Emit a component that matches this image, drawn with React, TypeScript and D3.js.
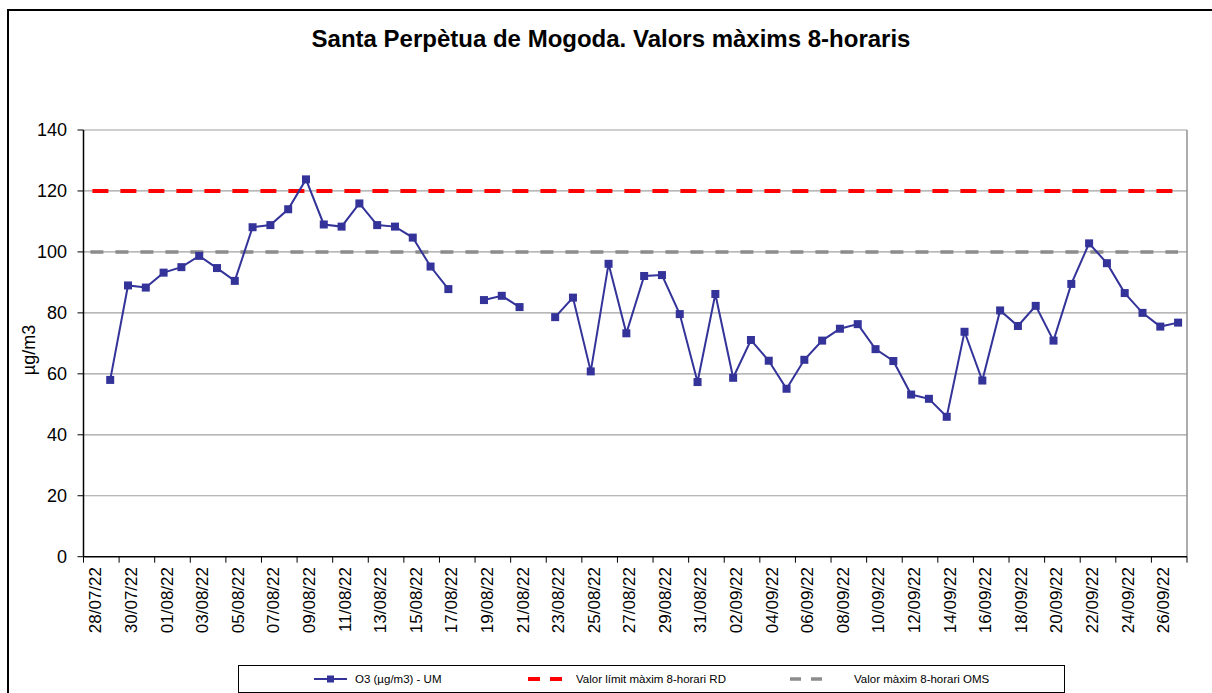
import React from "react";
import * as d3 from "d3";

const dates = [
  "28/07/22", "29/07/22", "30/07/22", "31/07/22",
  "01/08/22", "02/08/22", "03/08/22", "04/08/22", "05/08/22", "06/08/22", "07/08/22", "08/08/22",
  "09/08/22", "10/08/22", "11/08/22", "12/08/22", "13/08/22", "14/08/22", "15/08/22", "16/08/22",
  "17/08/22", "18/08/22", "19/08/22", "20/08/22", "21/08/22", "22/08/22", "23/08/22", "24/08/22",
  "25/08/22", "26/08/22", "27/08/22", "28/08/22", "29/08/22", "30/08/22", "31/08/22",
  "01/09/22", "02/09/22", "03/09/22", "04/09/22", "05/09/22", "06/09/22", "07/09/22", "08/09/22",
  "09/09/22", "10/09/22", "11/09/22", "12/09/22", "13/09/22", "14/09/22", "15/09/22", "16/09/22",
  "17/09/22", "18/09/22", "19/09/22", "20/09/22", "21/09/22", "22/09/22", "23/09/22", "24/09/22",
  "25/09/22", "26/09/22", "27/09/22",
];

// O3 maxim 8-horari, null = sense dada
const o3Values: (number | null)[] = [
  null, 58, 89, 88.3,
  93.2, 95, 98.7, 94.7, 90.5, 108.1, 108.8, 114,
  123.8, 109, 108.3, 115.9, 108.8, 108.3, 104.7, 95.2,
  87.8, null, 84.2, 85.6, 81.9, null, 78.6, 85,
  60.8, 96.1, 73.3, 92.1, 92.4, 79.6, 57.3,
  86.2, 58.7, 71.1, 64.3, 55.1, 64.6, 70.9, 74.8,
  76.3, 68.1, 64.2, 53.2, 51.8, 45.9, 73.8, 57.8,
  80.8, 75.7, 82.3, 70.9, 89.5, 102.8, 96.3, 86.5,
  80, 75.5, 76.8,
];

const limitRD = 120;
const limitOMS = 100;
const yTicks = [0, 20, 40, 60, 80, 100, 120, 140];

const seriesNames = ["O3 (µg/m3) - UM", "Valor límit màxim 8-horari RD", "Valor màxim 8-horari OMS"];

const W = 1212;
const H = 693;
const font = "'Liberation Sans', Arial, sans-serif";
const blue = "#333399";

export default function App() {
  const left = 83.5, right = 1187, top = 130, bottom = 556.7;

  const x = d3.scaleBand<string>().domain(dates).range([left, right]).padding(0);
  const y = d3.scaleLinear().domain([0, 140]).range([bottom, top]);
  const cx = (d: string) => (x(d) as number) + x.bandwidth() / 2;

  const points = dates.map((d, i) => ({ d, v: o3Values[i] }));
  const line = d3
    .line<{ d: string; v: number | null }>()
    .defined((p) => p.v !== null)
    .x((p) => cx(p.d))
    .y((p) => y(p.v as number));

  const first = cx(dates[0]);
  const last = cx(dates[dates.length - 1]);
  const tickIdx = d3.range(0, dates.length + 1, 2);

  return (
    <svg
      width={W}
      height={H}
      style={{ position: "absolute", left: 0, top: 0, background: "#fff" }}
      fontFamily={font}
    >
      <rect x={8} y={10} width={W + 20} height={H + 20} fill="#fff" stroke="#000" strokeWidth={2} />

      <text x={611} y={47} textAnchor="middle" fontSize={24} fontWeight="bold">
        Santa Perpètua de Mogoda. Valors màxims 8-horaris
      </text>

      {/* grid */}
      {yTicks.map((t) => (
        <g key={t}>
          {t > 0 && (
            <line x1={left} x2={right} y1={y(t)} y2={y(t)} stroke="#a0a0a0" strokeWidth={1.2} />
          )}
          <line x1={left - 6} x2={left} y1={y(t)} y2={y(t)} stroke="#000" />
          <text x={67} y={y(t)} dy="0.35em" textAnchor="end" fontSize={18}>
            {t}
          </text>
        </g>
      ))}
      <line x1={right} x2={right} y1={top} y2={bottom} stroke="#909090" strokeWidth={1.5} />

      {/* reference lines */}
      <line x1={first} x2={last} y1={y(limitRD)} y2={y(limitRD)} stroke="#ff0000" strokeWidth={4} strokeDasharray="16 12" />
      <line x1={first - 2} x2={last} y1={y(limitOMS)} y2={y(limitOMS)} stroke="#8c8c8c" strokeWidth={3.5} strokeDasharray="13 12" />

      {/* axes */}
      <line x1={left} x2={left} y1={top} y2={bottom} stroke="#000" strokeWidth={1.5} />
      <line x1={left} x2={right} y1={bottom} y2={bottom} stroke="#000" strokeWidth={1.5} />
      {tickIdx.map((i) => {
        const xp = left + i * x.bandwidth();
        return <line key={i} x1={xp} x2={xp} y1={bottom} y2={bottom + 6} stroke="#000" />;
      })}
      {dates.map((d, i) =>
        i % 2 === 0 ? (
          <text
            key={d}
            transform={`translate(${cx(d) + 3},${567}) rotate(-90)`}
            dy="0.35em"
            textAnchor="end"
            fontSize={17}
          >
            {d}
          </text>
        ) : null
      )}

      <text transform={`translate(29,350) rotate(-90)`} dy="0.35em" textAnchor="middle" fontSize={18}>
        µg/m3
      </text>

      {/* series */}
      <path d={line(points) || ""} fill="none" stroke={blue} strokeWidth={2} />
      {points
        .filter((p) => p.v !== null)
        .map((p) => (
          <rect key={p.d} x={cx(p.d) - 4} y={y(p.v as number) - 4} width={8} height={8} fill={blue} />
        ))}

      {/* legend */}
      <rect x={238.5} y={665.5} width={826} height={27} fill="#fff" stroke="#000" />
      <g fontSize={11.5}>
        <line x1={314} x2={347} y1={679} y2={679} stroke={blue} strokeWidth={2} />
        <rect x={327} y={675.5} width={7} height={7} fill={blue} />
        <text x={355} y={679} dy="0.35em">{seriesNames[0]}</text>

        <line x1={528} x2={562} y1={679} y2={679} stroke="#ff0000" strokeWidth={4} strokeDasharray="12 10" />
        <text x={576} y={679} dy="0.35em">{seriesNames[1]}</text>

        <line x1={790} x2={822} y1={679} y2={679} stroke="#8c8c8c" strokeWidth={3.5} strokeDasharray="11 10" />
        <text x={854} y={679} dy="0.35em">{seriesNames[2]}</text>
      </g>
    </svg>
  );
}
